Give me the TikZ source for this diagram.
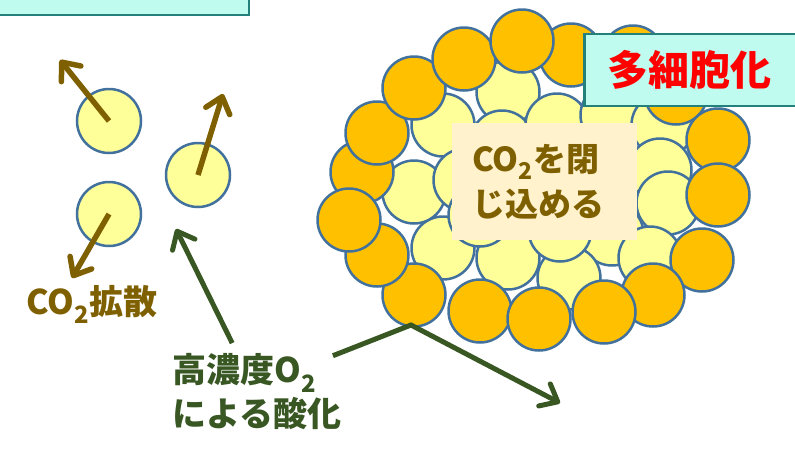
\documentclass[tikz,border=0pt]{standalone}
\usepackage{fontspec}
\setmainfont{Noto Sans CJK JP}
\usetikzlibrary{arrows.meta}

\definecolor{rim}{HTML}{41719C}
\definecolor{outercol}{HTML}{FFC000}
\definecolor{innercol}{HTML}{FFFF99}
\definecolor{co2brown}{HTML}{7F6000}
\definecolor{o2green}{HTML}{385723}
\definecolor{mint}{HTML}{BFFCEF}
\definecolor{panelrim}{HTML}{23807A}
\definecolor{cream}{HTML}{FFF2CC}

\tikzset{
  cell/.style={circle, draw=rim, line width=2.5pt, minimum size=63pt, inner sep=0pt},
  outercell/.style={cell, fill=outercol},
  innercell/.style={cell, fill=innercol},
  co2/.style={draw=co2brown, line width=5.5pt, -{Straight Barb[length=15pt,width=25pt,round]}},
  o2/.style={draw=o2green, line width=5pt, -{Straight Barb[length=15pt,width=25pt,round]}},
  panel/.style={rectangle, draw=panelrim, fill=mint, line width=2.5pt},
}

\begin{document}
\begin{tikzpicture}[x=1pt, y=-1pt]
\useasboundingbox (0,0) rectangle (795,448);

% banner running off the top edge
\node (banner) [panel, anchor=south east, minimum width=270pt, minimum height=40pt] at (250,16) {};

% single cells, CO2 escapes
\node (free1) [innercell, minimum size=64pt] at (109,121) {};
\node (free2) [innercell, minimum size=64pt] at (198,175) {};
\node (free3) [innercell, minimum size=64pt] at (109,214) {};
\coordinate (out1) at (60,60);
\coordinate (out2) at (223,94);
\coordinate (out3) at (72,278);
\draw[co2] (free1.center) -- (out1);
\draw[co2] (free2.center) -- (out2);
\draw[co2] (free3.center) -- (out3);
\node (diffuse) [text=co2brown, font=\bfseries\fontsize{34pt}{44pt}\selectfont] at (92,304) {CO\textsubscript{2}拡散};

% colony: inner cells first, then the outer ring
\foreach \x/\y [count=\i] in {443/125, 508/92, 502/142, 557/125, 612/115, 663/125,
    660/170, 668/203, 612/234, 650/258, 569/278, 508/258, 443/248, 414/192,
    465/180, 540/190, 600/175, 560/230, 480/215}
  \node (in\i) [innercell] at (\x,\y) {};
\foreach \x/\y [count=\i] in {362/172, 377/133, 414/88, 464/59, 571/55, 633/57,
    522/41, 676/93, 718/140, 718/195, 702/260, 653/295, 604/312, 480/311,
    539/319, 414/295, 377/255, 349/220}
  \node (ring\i) [outercell] at (\x,\y) {};

\node (trap) [fill=cream, text=co2brown, text width=145pt, inner xsep=20pt, minimum height=117pt,
  align=left, font=\bfseries\fontsize{33pt}{45pt}\selectfont] at (544.5,181.5) {CO\textsubscript{2}を閉\\じ込める};

\node (multi) [panel, anchor=west, minimum height=72pt, text width=182pt, inner xsep=23pt,
  align=left, text=red, font=\bfseries\fontsize{41pt}{48pt}\selectfont] at (583,70) {多細胞化};

% oxidation by O2
\node (oxid) [text=o2green, align=left, font=\bfseries\fontsize{34pt}{44pt}\selectfont] at (257,392) {高濃度O\textsubscript{2}\\による酸化};
\coordinate (hit) at (176,229);
\coordinate (bend) at (411,325);
\coordinate (away) at (560,403);
\draw[o2, shorten <=8pt] (oxid.117) -- (hit);
\draw[o2, shorten <=-13pt] (oxid.25) -- (bend) -- (away);
\end{tikzpicture}
\end{document}
